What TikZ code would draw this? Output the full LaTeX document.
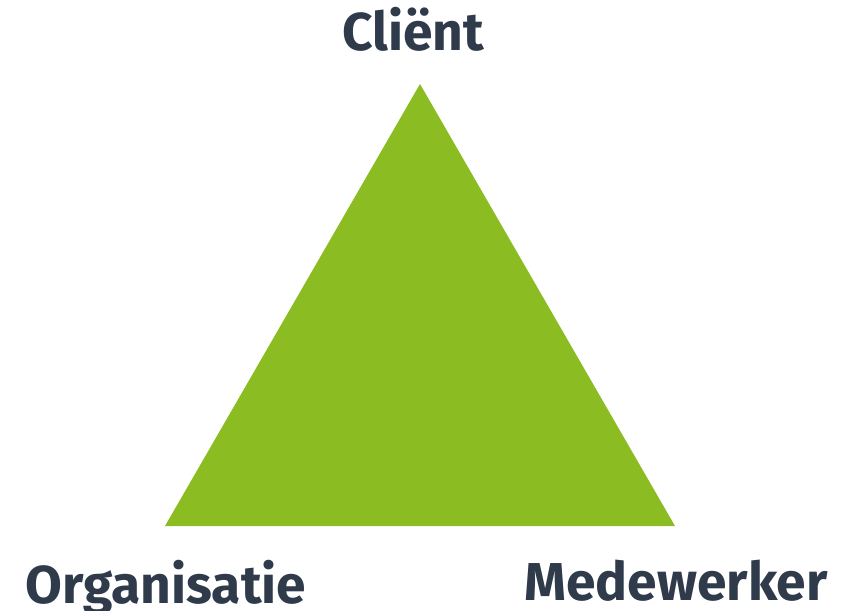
\documentclass[tikz,border=0pt]{standalone}
\usepackage{fontspec}
\setmainfont{Fira Sans}[Ligatures=NoCommon]
\definecolor{tgreen}{HTML}{8BBC22}
\definecolor{tlabel}{HTML}{2F3A4A}
\begin{document}
\begin{tikzpicture}[x=0.75pt,y=-0.75pt,
  lbl/.style={font=\fontsize{40}{44}\selectfont\bfseries, text=tlabel, inner sep=0pt, anchor=base}]
\useasboundingbox (0,0) rectangle (844,611);
\coordinate (top) at (420,84);
\coordinate (bl) at (165,526);
\coordinate (br) at (675,526);
\fill[tgreen] (top) -- (bl) -- (br) -- cycle;
\node[lbl] (client) at (413,50) {Cliënt};
\node[lbl] (org) at (166,603) {Organisatie};
\node[lbl] (med) at (676,600) {Medewerker};
\end{tikzpicture}
\end{document}
